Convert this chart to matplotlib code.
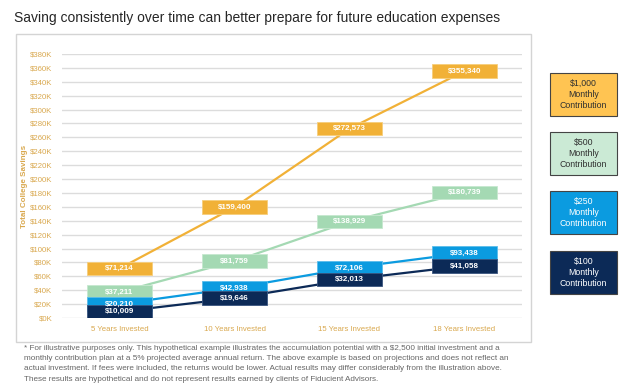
import numpy as np
import matplotlib
matplotlib.use("Agg")
import matplotlib.pyplot as plt
from matplotlib.patches import Rectangle

plt.rcParams["font.family"] = ["Liberation Sans", "DejaVu Sans"]

# === Data ===
categories = ["5 Years Invested", "10 Years Invested", "15 Years Invested", "18 Years Invested"]
plan_1000 = [71214, 159400, 272573, 355340]
plan_500 = [37211, 81759, 138929, 180739]
plan_250 = [20210, 42938, 72106, 93438]
plan_100 = [10009, 19646, 32013, 41058]
# the $100 boxes sit lower/higher than their values in the original picture
plan_100_pos = [9000, 28500, 55500, 75000]
y_ticks = list(range(0, 380001, 20000))
legend_labels = ["\\$1,000\nMonthly\nContribution", "\\$500\nMonthly\nContribution",
                 "\\$250\nMonthly\nContribution", "\\$100\nMonthly\nContribution"]

# === Colours ===
c_orange = "#F1B137"
c_green = "#A4D9B3"
c_blue = "#0B9BE0"
c_navy = "#0C2A57"
gold = "#D9A84E"
grid_c = "#DCDCDC"

fig = plt.figure(figsize=(6.24, 3.88), dpi=100)

# panel border
fig.patches.append(Rectangle((16 / 624, 1 - 342 / 388), 515 / 624, 308 / 388,
                             transform=fig.transFigure, fill=False,
                             edgecolor="#D4D4D4", linewidth=1.0))

ax = fig.add_axes([62 / 624, 1 - 318 / 388, 460 / 624, 264 / 388])
x = np.arange(len(categories))

series = [
    (plan_1000, plan_1000, c_orange, "#F6CE7C"),
    (plan_500, plan_500, c_green, "#C6E8CF"),
    (plan_250, plan_250, c_blue, "#5BBDEB"),
    (plan_100_pos, plan_100, c_navy, "#3A5580"),
]

box_w = 0.57
box_h = 19500

for i, (pos, vals, col, edge) in enumerate(series):
    ax.plot(x, pos, color=col, linewidth=1.6, zorder=2, solid_capstyle="butt")
for i, (pos, vals, col, edge) in enumerate(series):
    ax.bar(x, box_h, bottom=np.array(pos) - box_h / 2, width=box_w,
           color=col, edgecolor=edge, linewidth=0.6, zorder=3 + i)
    for xi, p, v in zip(x, pos, vals):
        ax.text(xi, p, f"\\${v:,}", ha="center", va="center", color="white",
                fontsize=5.8, fontweight="bold", zorder=10)

ax.set_xlim(-0.5, 3.5)
ax.set_ylim(0, 380000)
ax.set_yticks(y_ticks)
ax.set_yticklabels([f"\\${int(t / 1000)}K" for t in y_ticks])
ax.set_xticks(x)
ax.set_xticklabels(categories)
ax.tick_params(axis="both", length=0, labelsize=5.6, labelcolor=gold)
ax.tick_params(axis="y", pad=7)
ax.tick_params(axis="x", pad=6)
ax.grid(axis="y", color=grid_c, linewidth=1.0, zorder=0)
ax.set_axisbelow(True)
for s in ax.spines.values():
    s.set_visible(False)

fig.text(25 / 624, 1 - 186 / 388, "Total College Savings", rotation=90,
         ha="center", va="center", color=gold, fontsize=5.8, fontweight="bold")

# === Title ===
fig.text(14 / 624, 1 - 18 / 388,
         "Saving consistently over time can better prepare for future education expenses",
         ha="left", va="center", fontsize=10.0, color="#262626")

# === Legend boxes ===
leg_cols = ["#FFC452", "#CBEAD5", c_blue, c_navy]
leg_text = ["#303030", "#303030", "white", "white"]
leg_tops = [73, 132, 191, 251]
for lab, fc, tc, top in zip(legend_labels, leg_cols, leg_text, leg_tops):
    fig.patches.append(Rectangle((550 / 624, 1 - (top + 43) / 388), 67 / 624, 43 / 388,
                                 transform=fig.transFigure, facecolor=fc,
                                 edgecolor="#444444", linewidth=0.8))
    fig.text(583.5 / 624, 1 - (top + 21.5) / 388, lab, ha="center", va="center",
             fontsize=6.3, color=tc, linespacing=1.25)

# === Footnote ===
foot = ("* For illustrative purposes only. This hypothetical example illustrates the accumulation potential with a \\$2,500 initial investment and a\n"
        "monthly contribution plan at a 5% projected average annual return. The above example is based on projections and does not reflect an\n"
        "actual investment. If fees were included, the returns would be lower. Actual results may differ considerably from the illustration above.\n"
        "These results are hypothetical and do not represent results earned by clients of Fiducient Advisors.")
fig.text(24 / 624, 1 - 345 / 388, foot, ha="left", va="top", fontsize=5.9,
         color="#666666", linespacing=1.65)

plt.savefig("out.png", dpi=100)
